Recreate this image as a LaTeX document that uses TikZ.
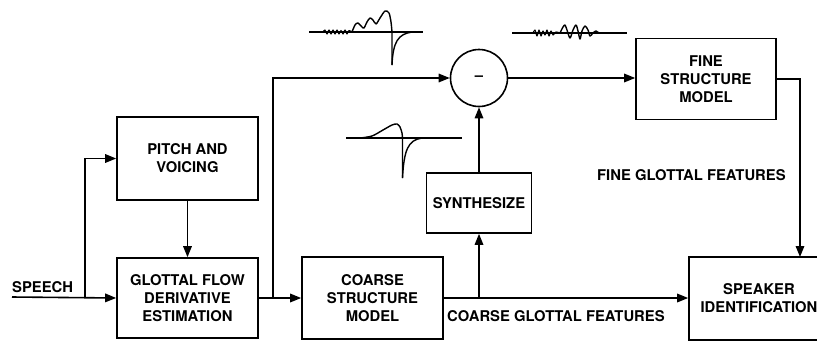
\documentclass[tikz,border=0pt]{standalone}
\usepackage{fontspec}
\setmainfont{TeX Gyre Heros}
\usetikzlibrary{arrows.meta}
\begin{document}
\begin{tikzpicture}[x=1pt,y=-1pt,
  every node/.style={font=\bfseries\fontsize{14.8}{18}\selectfont},
  blk/.style={draw,line width=1.6pt,align=center,inner sep=0pt},
  lbl/.style={inner sep=0pt},
  conn/.style={line width=1.6pt},
  arr/.style={conn,-{Triangle[length=11pt,width=8.5pt]}},
  wave/.style={line width=1.4pt,line join=round}]
\useasboundingbox (0,0) rectangle (817,341);
% blocks
\node[blk,minimum width=141pt,minimum height=83pt] (pitch) at (187.5,158.5) {PITCH AND\\VOICING};
\node[blk,minimum width=141pt,minimum height=80pt] (glot) at (187.5,298) {GLOTTAL FLOW\\DERIVATIVE\\ESTIMATION};
\node[blk,minimum width=141pt,minimum height=82pt] (coarse) at (372.5,298) {COARSE\\STRUCTURE\\MODEL};
\node[blk,minimum width=105pt,minimum height=60pt] (synth) at (479,203) {SYNTHESIZE};
\node[blk,minimum width=140pt,minimum height=81pt] (fine) at (706,79) {FINE\\STRUCTURE\\MODEL};
\node[blk,minimum width=140pt,minimum height=83pt,text width=140pt] (spk) at (759,298.5) {SPEAKER\\IDENTIFICATION};
\node[draw,circle,line width=1.6pt,minimum size=57pt,inner sep=0pt] (circ) at (479,78) {};
\node[lbl] (minus) at (circ.center) {\textendash};
% labels
\node[lbl,anchor=west] (speech) at (12,287) {SPEECH};
\node[lbl,anchor=west] (cgf) at (447,316) {COARSE GLOTTAL FEATURES};
\node[lbl,anchor=west] (fgf) at (597,175) {FINE GLOTTAL FEATURES};
% coordinates
\coordinate (sp) at (12,297);
\coordinate (b1) at (85,297);
\coordinate (b2) at (273,297);
\coordinate (b3) at (479,297);
\coordinate (c3) at (800,257);
% connectors
\draw[arr] (sp) -- (glot.west);
\draw[arr] (b1) |- (pitch.west);
\draw[arr] (pitch.south) -- (glot.north);
\draw[arr] (glot.east) -- (coarse.west);
\draw[arr] (b2) |- (circ.west);
\draw[arr] (circ.east) -- (circ.east -| fine.west);
\draw[arr] (fine.east) -| (c3);
\draw[arr] (coarse.east) -- (coarse.east -| spk.west);
\draw[arr] (b3) -- (synth.south);
\draw[arr] (synth.north) -- (circ.south);
% waveform 1 (top left)
\draw[wave] (309,32) -- (423,32);
\draw[wave,line width=1.1pt] plot[smooth] coordinates {(323,32)(325,30)(327,34)(329,30)(331,34)(333,30)(335,34)(337,30)(339,34)(341,30.5)(343,34)(345,30)(347,34)(349,30.5)(352,32)};
\draw[wave] plot[smooth] coordinates {(352,32)(355,25)(358,23)(362,27)(364,28)(367,22)(370,18)(373,20)(376,24)(380,18)(385,11)(389,13)(391,22)(392,32)} -- (392,65);
\draw[wave] (392,65) .. controls (393,42) and (398,34) .. (412,32);
% waveform 2 (top right)
\draw[wave] (512,33) -- (627,33);
\draw[wave,line width=1.1pt] plot[smooth] coordinates {(533,33)(535,30)(537,36)(539,30)(541,36)(543,31)(545,35)(547,30)(549,36)(551,31)(553,35)(556,32)(560,33)};
\draw[wave] plot[smooth] coordinates {(560,33)(563,27)(565,25)(567,30)(570,38)(573,30)(576,25)(578,31)(580,39)(582,31)(585,26)(588,30)(590,36)(593,33)(596,31)(599,33)(605,33)};
% waveform 3 (middle)
\draw[wave] (346,138) -- (462,138);
\draw[wave] plot[smooth] coordinates {(360,138)(372,136)(383,130)(392,125)(397,124)(400,127)(402,133)(402.5,138)} -- (402.5,178);
\draw[wave] (402.5,178) .. controls (404,150) and (408,140) .. (422,138);
\end{tikzpicture}
\end{document}
